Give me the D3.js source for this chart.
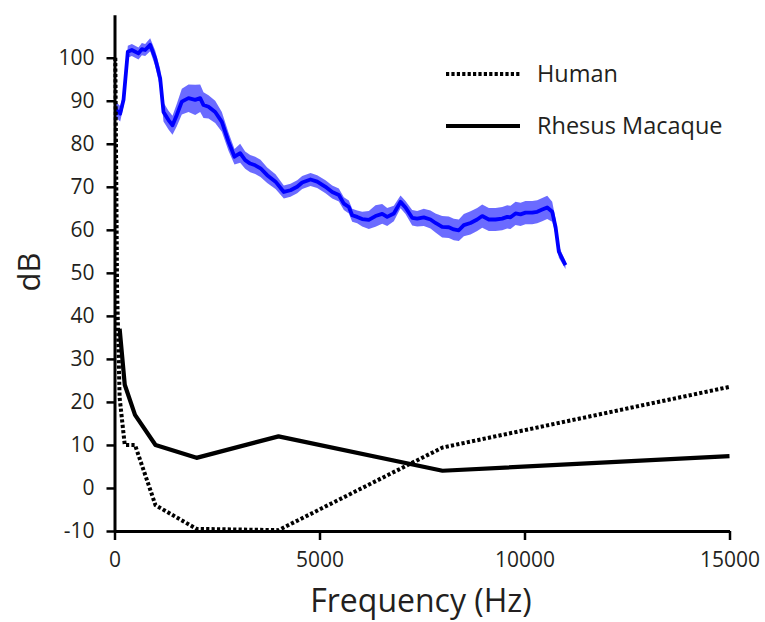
<!DOCTYPE html>
<html><head><meta charset="utf-8">
<script src="https://cdn.jsdelivr.net/npm/d3@7"></script>
<style>body{margin:0;background:#fff}svg{display:block}</style>
</head><body>
<svg id="c" width="765" height="622"></svg>
<script>
const xTicks = [0, 5000, 10000, 15000];
const yTicks = [-10, 0, 10, 20, 30, 40, 50, 60, 70, 80, 90, 100];
const humanFreq = [20, 63, 125, 250, 500, 1000, 2000, 4000, 8000, 15000];
const humanDb   = [100, 46, 21, 10, 10, -4, -9.5, -9.8, 9.4, 23.5];
const rhesusFreq = [125, 250, 500, 1000, 2000, 4000, 8000, 15000];
const rhesusDb   = [37, 24, 17, 10, 7, 12, 4, 7.4];
const specFreq = [20, 139, 220, 325, 423, 585, 667, 748, 870, 992, 1114, 1195, 1317, 1415, 1520, 1642, 1805, 1968, 2090, 2171, 2293, 2456, 2618, 2780, 2927, 3065, 3187, 3310, 3432, 3561, 3724, 3927, 4130, 4293, 4456, 4578, 4781, 4944, 5146, 5310, 5472, 5594, 5716, 5797, 5919, 6041, 6203, 6366, 6529, 6651, 6813, 6976, 7098, 7261, 7383, 7544, 7707, 7829, 7992, 8154, 8276, 8398, 8520, 8683, 8846, 8968, 9130, 9293, 9456, 9578, 9659, 9781, 9903, 10024, 10188, 10310, 10432, 10554, 10676, 10757, 10838, 10920, 11000];
const specDb = [88, 87, 90.2, 101.4, 101.8, 101, 102, 101.8, 103, 99.9, 95.2, 87.4, 85.5, 84.3, 86.7, 89.8, 90.6, 90.2, 90.6, 89, 88.6, 87.4, 85.1, 80.5, 77, 77.8, 76.2, 75.4, 75, 74.3, 72.7, 71.2, 68.8, 69.2, 70, 71, 71.7, 71.2, 70, 68.8, 68.1, 66.1, 65.3, 63.4, 63, 62.5, 62.3, 63.2, 63.7, 63, 63.8, 66.5, 65.2, 62.8, 62.6, 62.9, 62.4, 61.6, 60.7, 60.6, 60.1, 59.9, 61.1, 61.6, 62.4, 63.2, 62.4, 62.4, 62.6, 63, 62.9, 63.8, 63.6, 64, 64, 64.2, 64.7, 65.2, 64.2, 60.7, 54.9, 53.3, 51.8];
const specSem = [1.8, 1.8, 1.5, 1.4, 1.4, 1.4, 1.4, 1.4, 1.5, 1.8, 2.2, 2.2, 2.2, 2.2, 2.6, 3, 3.2, 3.5, 3.2, 3, 2.7, 2.6, 2.3, 2.1, 1.8, 2.2, 2, 2, 2, 2, 1.8, 1.7, 1.5, 1.5, 1.5, 1.5, 1.5, 1.5, 1.5, 1.5, 1.5, 1.5, 1.5, 1.5, 1.5, 1.7, 2.1, 2.5, 2.3, 2.1, 1.8, 1.5, 1.5, 1.8, 1.8, 2, 2.1, 2.2, 2.5, 2.5, 2.5, 2.5, 2.6, 2.7, 2.7, 2.7, 2.7, 2.7, 2.7, 2.7, 2.7, 2.7, 2.7, 2.7, 2.7, 2.7, 2.7, 2.7, 2.3, 1.8, 1.4, 1.1, 0.9];

const svg = d3.select('#c');
const font = "'Open Sans', 'Noto Sans', sans-serif";
const txt = '#231f20';
const x = d3.scaleLinear().domain([0, 15000]).range([114.5, 729.5]);
const y = d3.scaleLinear().domain([-10, 110]).range([531, 14.7]);

// spectrum band + line
const spec = specFreq.map((f, i) => ({f, v: specDb[i], e: specSem[i]}));
svg.append('path').datum(spec)
  .attr('d', d3.area().x(d => x(d.f)).y0(d => y(d.v - d.e)).y1(d => y(d.v + d.e)))
  .attr('fill', '#0000ff').attr('fill-opacity', 0.58);
svg.append('path').datum(spec)
  .attr('d', d3.line().x(d => x(d.f)).y(d => y(d.v)))
  .attr('fill', 'none').attr('stroke', '#0000ff').attr('stroke-width', 3.8).attr('stroke-linejoin', 'round');

// human & rhesus
const human = humanFreq.map((f, i) => [f, humanDb[i]]);
const rhesus = rhesusFreq.map((f, i) => [f, rhesusDb[i]]);
const ln = d3.line().x(d => x(d[0])).y(d => y(d[1]));
svg.append('path').datum(human).attr('d', ln).attr('fill', 'none')
  .attr('stroke', '#000').attr('stroke-width', 4).attr('stroke-dasharray', '3.2,2.2');
svg.append('path').datum(rhesus).attr('d', ln).attr('fill', 'none')
  .attr('stroke', '#000').attr('stroke-width', 4.2).attr('stroke-linejoin', 'round');

// axes
const fmt = d => String(d).replace('\u2212', '-');
const yAxis = svg.append('g').attr('transform', `translate(${x(0)},0)`)
  .call(d3.axisLeft(y).tickValues(yTicks).tickFormat(fmt).tickSize(8).tickSizeOuter(0).tickPadding(12));
const xAxis = svg.append('g').attr('transform', `translate(0,${y(-10)})`)
  .call(d3.axisBottom(x).tickValues(xTicks).tickFormat(fmt).tickSize(9).tickSizeOuter(0).tickPadding(12));
[yAxis, xAxis].forEach(a => {
  a.select('.domain').attr('stroke', '#000').attr('stroke-width', 3);
  a.selectAll('.tick line').attr('stroke', '#000').attr('stroke-width', 2.5);
  a.selectAll('.tick text').attr('fill', txt).style('font-family', font).style('font-size', '21px');
});

// titles
svg.append('text').attr('x', 421).attr('y', 612).attr('text-anchor', 'middle')
  .style('font-family', font).style('font-size', '32px').attr('fill', txt).text('Frequency (Hz)');
svg.append('text').attr('transform', 'translate(40,272) rotate(-90)').attr('text-anchor', 'middle')
  .style('font-family', font).style('font-size', '31px').attr('fill', txt).text('dB');

// legend
const leg = [{name: 'Human', dash: '3.2,2.2', w: 4, y: 74}, {name: 'Rhesus Macaque', dash: null, w: 4.2, y: 126}];
leg.forEach(l => {
  svg.append('line').attr('x1', 446).attr('x2', 520).attr('y1', l.y).attr('y2', l.y)
    .attr('stroke', '#000').attr('stroke-width', l.w).attr('stroke-dasharray', l.dash);
  svg.append('text').attr('x', 537).attr('y', l.y + 8).style('font-family', font).style('font-size', '23.5px')
    .attr('fill', txt).text(l.name);
});
</script>
</body></html>
